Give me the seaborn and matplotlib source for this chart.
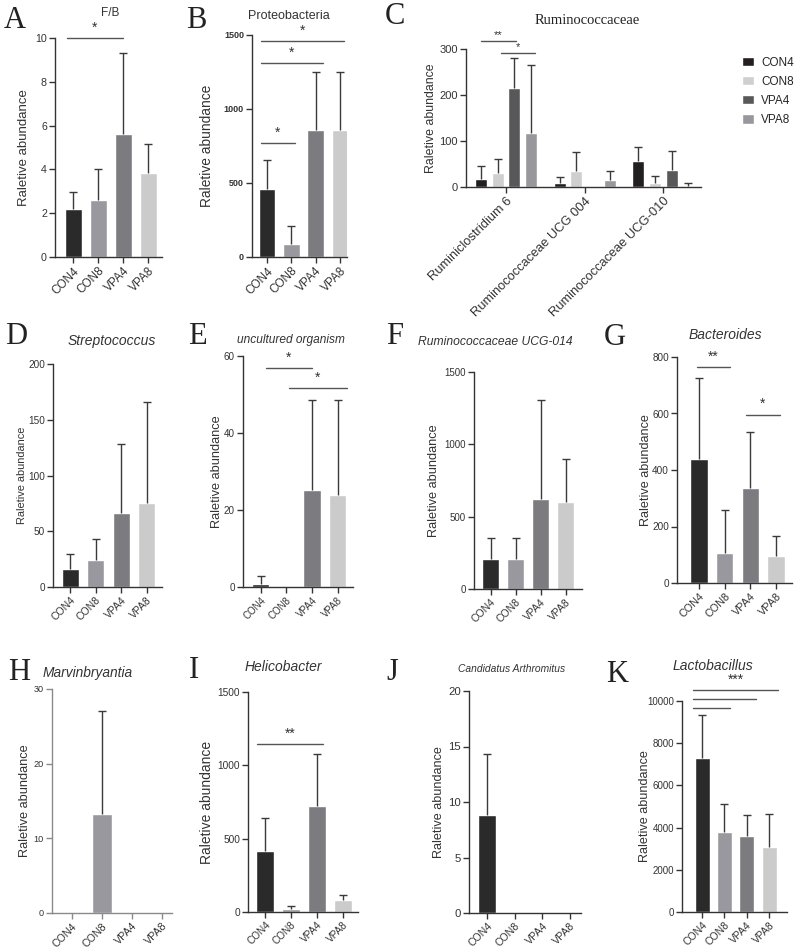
import numpy as np
import pandas as pd
import matplotlib.pyplot as plt
import seaborn as sns

sns.set_style("ticks")
plt.rcParams['font.family'] = ['Liberation Sans', 'DejaVu Sans']
plt.rcParams['axes.linewidth'] = 1.0

groups = ["CON4", "CON8", "VPA4", "VPA8"]
pal = ["#2b2a2b", "#98989e", "#7c7c80", "#cbcbcc"]
pal_c = ["#231f20", "#cfcfcf", "#58585b", "#98989c"]

# bar height and top of the (upper) error bar, per panel
fb_mean = [2.2, 2.6, 5.6, 3.85]
fb_top = [2.95, 4.0, 9.3, 5.15]
proteo_mean = [460, 85, 855, 855]
proteo_top = [655, 210, 1250, 1250]
strep_mean = [16, 24, 66, 75]
strep_top = [30, 43, 128, 166]
uncult_mean = [0.8, 0, 25.3, 23.8]
uncult_top = [2.8, 0, 48.5, 48.5]
ucg014_mean = [210, 210, 620, 600]
ucg014_top = [350, 350, 1305, 900]
bact_mean = [440, 105, 335, 95]
bact_top = [725, 258, 533, 165]
marvin_mean = [0, 13.2, 0, 0]
marvin_top = [0, 27, 0, 0]
helico_mean = [415, 20, 725, 80]
helico_top = [640, 42, 1075, 115]
candid_mean = [8.8, 0, 0, 0]
candid_top = [14.3, 0, 0, 0]
lacto_mean = [7280, 3780, 3580, 3060]
lacto_top = [9320, 5100, 4600, 4660]

rumi_genus = ["Ruminiclostridium 6", "Ruminococcaceae UCG 004", "Ruminococcaceae UCG-010"]
rumi_mean = {"CON4": [18, 8, 56], "CON8": [30, 34, 9], "VPA4": [215, 0, 38], "VPA8": [117, 15, 3]}
rumi_top = {"CON4": [45, 21, 88], "CON8": [60, 76, 23], "VPA4": [281, 0, 78], "VPA8": [265, 35, 8]}

# significance brackets: (from, to, height, label)
fb_sig = [(-0.24, 2.0, 10.0, "*")]
proteo_sig = [(-0.25, 1.15, 770, "*"), (-0.25, 2.3, 1310, "*"), (-0.25, 3.15, 1460, "*")]
rumi_sig = [(-0.32, 0.13, 318, "**"), (-0.07, 0.37, 292, "*")]
uncult_sig = [(0.2, 2.0, 56.8, "*"), (1.1, 3.35, 51.6, "*")]
bact_sig = [(-0.1, 1.22, 765, "**"), (1.84, 3.14, 596, "*")]
helico_sig = [(-0.32, 2.23, 1144, "**")]
lacto_sig = [(-0.4, 1.24, 9652, ""), (-0.4, 2.43, 10079, ""), (-0.4, 3.4, 10521, "***")]

W, H = 800, 950
fig = plt.figure(figsize=(8, 9.5), dpi=100)


def add_ax(l, t, r, b):
    return fig.add_axes([l / W, 1 - b / H, (r - l) / W, (b - t) / H])


def fig_text(x, y, s, **kw):
    fig.text(x / W, 1 - y / H, s, ha="center", va="center", **kw)


def style_axis(ax, box, ylab_x, ylab_size, xt_size, yt_size, spine="#333333"):
    sns.despine(ax=ax)
    for side in ["left", "bottom"]:
        ax.spines[side].set_color(spine)
    ax.tick_params(axis="both", colors=spine, labelcolor="#333333", length=4, width=1, pad=1.8)
    ax.tick_params(axis="x", labelsize=xt_size)
    ax.tick_params(axis="y", labelsize=yt_size)
    ax.set_xlabel("")
    ax.set_ylabel("Raletive abundance", fontsize=ylab_size, color="#333333")
    l, t, r, b = box
    ax.yaxis.set_label_coords((ylab_x + 6 - l) / (r - l), 0.5)


def draw_err(ax, x, mean, top, color="#3a3a3a"):
    x = np.asarray(x, float)
    m = np.asarray(mean, float)
    t = np.asarray(top, float)
    keep = t > m
    ax.vlines(x[keep], m[keep], t[keep], color=color, lw=1)
    ax.plot(x[keep], t[keep], ls="none", marker="_", ms=6, mew=1, color=color)


def draw_sig(ax, sig, offset=2.5, size=10):
    for a, b, y, lab in sig:
        ax.plot([a, b], [y, y], color="#555555", lw=1, clip_on=False)
        if lab:
            ax.annotate(lab, xy=((a + b) / 2, y), xytext=(0, offset), textcoords="offset points",
                        ha="center", va="bottom", fontsize=size, color="#333333",
                        annotation_clip=False)


panels = [
    dict(letter="A", letter_xy=(15, 20), title="F/B", title_xy=(110, 13), tsize=8.5, italic=False,
         mean=fb_mean, top=fb_top, sig=fb_sig, box=(55, 38, 162, 257), ymax=10,
         yticks=[0, 2, 4, 6, 8, 10], xlim=(-0.72, 3.56), ylab_x=24, ylab_size=9.5, xt=8.5, yt=7.7),
    dict(letter="B", letter_xy=(196, 20), title="Proteobacteria", title_xy=(289, 16), tsize=9, italic=False,
         mean=proteo_mean, top=proteo_top, sig=proteo_sig, box=(252, 35, 347, 257), ymax=1500,
         yticks=[0, 500, 1000, 1500], xlim=(-0.62, 3.29), ylab_x=208, ylab_size=9.9, xt=8.5, yt=6.5,
         bold=True),
    dict(letter="D", letter_xy=(16, 336), title="Streptococcus", title_xy=(112, 341), tsize=10, italic=True,
         mean=strep_mean, top=strep_top, sig=[], box=(53, 364, 162, 587), ymax=200,
         yticks=[0, 50, 100, 150, 200], xlim=(-0.68, 3.6), ylab_x=21.5, ylab_size=7.9, xt=7.5, yt=7.2),
    dict(letter="E", letter_xy=(197, 336), title="uncultured organism", title_xy=(291, 340), tsize=8.6, italic=True,
         mean=uncult_mean, top=uncult_top, sig=uncult_sig, box=(243, 356, 353, 587), ymax=60,
         yticks=[0, 20, 40, 60], xlim=(-0.69, 3.6), ylab_x=217, ylab_size=9.2, xt=7, yt=7.1),
    dict(letter="F", letter_xy=(395, 336), title="Ruminococcaceae UCG-014", title_xy=(495, 342), tsize=8.7, italic=True,
         mean=ucg014_mean, top=ucg014_top, sig=[], box=(474, 372, 582, 589), ymax=1500,
         yticks=[0, 500, 1000, 1500], xlim=(-0.66, 3.64), ylab_x=434, ylab_size=9.2, xt=7.5, yt=7),
    dict(letter="G", letter_xy=(615, 337), title="Bacteroides", title_xy=(725, 335), tsize=10, italic=True,
         mean=bact_mean, top=bact_top, sig=bact_sig, box=(677, 357, 792, 583), ymax=800,
         yticks=[0, 200, 400, 600, 800], xlim=(-0.86, 3.62), ylab_x=646, ylab_size=9.1, xt=7.8, yt=7.2),
    dict(letter="H", letter_xy=(19, 673), title="Marvinbryantia", title_xy=(88, 673), tsize=9.9, italic=True,
         mean=marvin_mean, top=marvin_top, sig=[], box=(52, 689, 172, 913), ymax=30,
         yticks=[0, 10, 20, 30], xlim=(-0.66, 3.34), ylab_x=25, ylab_size=9.2, xt=7.7, yt=6.6,
         spine="#8a8a8a"),
    dict(letter="I", letter_xy=(194, 671), title="Helicobacter", title_xy=(283, 667), tsize=10, italic=True,
         mean=helico_mean, top=helico_top, sig=helico_sig, box=(248, 692, 358, 912), ymax=1500,
         yticks=[0, 500, 1000, 1500], xlim=(-0.66, 3.59), ylab_x=208, ylab_size=10, xt=7.2, yt=7.3),
    dict(letter="J", letter_xy=(392, 672), title="Candidatus Arthromitus", title_xy=(512, 669), tsize=7.4, italic=True,
         mean=candid_mean, top=candid_top, sig=[], box=(469, 691, 581, 913), ymax=20,
         yticks=[0, 5, 10, 15, 20], xlim=(-0.65, 3.4), ylab_x=439, ylab_size=9.1, xt=7.6, yt=8.2),
    dict(letter="K", letter_xy=(617, 674), title="Lactobacillus", title_xy=(713, 666), tsize=10, italic=True,
         mean=lacto_mean, top=lacto_top, sig=lacto_sig, box=(682, 701, 787, 912), ymax=10000,
         yticks=[0, 2000, 4000, 6000, 8000, 10000], xlim=(-0.9, 3.8), ylab_x=645, ylab_size=9.1,
         xt=7.5, yt=7),
]

for p in panels:
    ax = add_ax(*p["box"])
    sns.barplot(x=groups, y=p["mean"], hue=groups, palette=pal, width=0.68, saturation=1,
                legend=False, ax=ax)
    draw_err(ax, np.arange(len(groups)), p["mean"], p["top"])
    ax.set_ylim(0, p["ymax"])
    ax.set_yticks(p["yticks"])
    ax.set_xlim(*p["xlim"])
    style_axis(ax, p["box"], p["ylab_x"], p["ylab_size"], p["xt"], p["yt"],
               p.get("spine", "#333333"))
    ax.set_xticks(range(len(groups)))
    ax.set_xticklabels(groups, rotation=45, ha="right", rotation_mode="anchor")
    if p.get("bold"):
        for lab in ax.get_yticklabels():
            lab.set_fontweight("bold")
    draw_sig(ax, p["sig"])
    fig_text(*p["title_xy"], p["title"], fontsize=p["tsize"], color="#333333",
             style="italic" if p["italic"] else "normal")
    fig_text(*p["letter_xy"], p["letter"], fontsize=22, family="Liberation Serif", color="#222222")

# panel C: grouped bars
rows = []
for g in groups:
    for k, gen in enumerate(rumi_genus):
        rows.append((gen, g, rumi_mean[g][k], rumi_top[g][k]))
df_c = pd.DataFrame(rows, columns=["genus", "group", "mean", "top"])

box_c = (466, 49, 701, 187)
axc = add_ax(*box_c)
sns.barplot(data=df_c, x="genus", y="mean", hue="group", hue_order=groups, palette=pal_c,
            width=0.85, gap=0.28, saturation=1, ax=axc)
for cont, g in zip(axc.containers, groups):
    xs = [bar.get_x() + bar.get_width() / 2 for bar in cont]
    idx = [int(round(x)) for x in xs]
    draw_err(axc, xs, [rumi_mean[g][i] for i in idx], [rumi_top[g][i] for i in idx])
axc.set_ylim(0, 300)
axc.set_yticks([0, 100, 200, 300])
axc.set_xlim(-0.51, 2.48)
style_axis(axc, box_c, 431, 8.9, 9.3, 8)
axc.set_xticks(range(len(rumi_genus)))
axc.set_xticklabels(rumi_genus, rotation=45, ha="right", rotation_mode="anchor")
draw_sig(axc, rumi_sig, offset=0.5, size=8)
axc.legend(loc="upper left", bbox_to_anchor=(1.13, 1.02), frameon=False, fontsize=8.5,
           handlelength=1.0, handleheight=0.8, handletextpad=0.6, labelspacing=0.6)
fig_text(587, 20, "Ruminococcaceae", fontsize=10.5, family="Liberation Serif", color="#222222")
fig_text(395, 17, "C", fontsize=22, family="Liberation Serif", color="#222222")

fig.savefig("out.png", dpi=100, facecolor="white")
